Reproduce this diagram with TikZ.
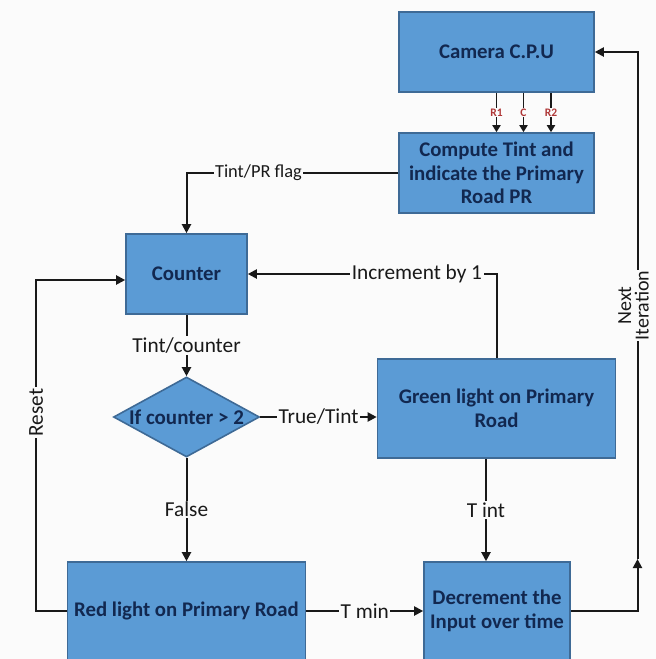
\documentclass[tikz,border=0pt]{standalone}
\usepackage{fontspec}
\setmainfont{Carlito}
\usetikzlibrary{arrows.meta,positioning,shapes.geometric}
\definecolor{boxblue}{RGB}{91,155,213}
\definecolor{boxedge}{RGB}{62,106,150}
\definecolor{navytext}{RGB}{18,40,80}
\definecolor{rtag}{RGB}{175,55,55}
\definecolor{paper}{RGB}{251,251,251}
\tikzset{
  box/.style   = {draw=boxedge, line width=1.6pt, fill=boxblue, text=navytext,
                  align=center, inner sep=3pt, font=\fontsize{20.8}{23.7}\selectfont\bfseries},
  decide/.style = {diamond, draw=boxedge, line width=1.6pt, fill=boxblue,
                  inner sep=0pt, minimum width=146pt, minimum height=80pt},
  lab/.style   = {fill=paper, inner sep=1.5pt, text=black!90, align=center,
                  font=\fontsize{21.3}{20}\selectfont},
  rlab/.style  = {fill=paper, inner sep=1pt, text=rtag, font=\fontsize{11.5}{12}\selectfont\bfseries},
  flow/.style  = {-{Triangle[length=9pt,width=9pt]}, line width=2pt, draw=black!90},
  feed/.style  = {-{Triangle[length=7pt,width=8pt]}, line width=1.8pt, draw=black!90},
}

\begin{document}
\begin{tikzpicture}[x=1pt, y=-1pt]
\fill[paper] (0,0) rectangle (656,659);
\useasboundingbox (0,0) rectangle (656,659);

\node[box, minimum width=195pt, minimum height=80pt] (cpu) at (496.5,52) {Camera C.P.U};
\node[box, minimum width=195pt, minimum height=80pt] (comp) at (496.5,173)
  {Compute Tint and\\indicate the Primary\\Road PR};
\node[box, minimum width=121pt, minimum height=80pt] (counter) at (186.5,274) {Counter};
\node[decide, label={[text=navytext, font=\fontsize{21}{23.7}\selectfont\bfseries]center:If counter > 2}]
  (check) at (186.5,417) {};
\node[box, minimum width=238pt, minimum height=99pt] (green) at (496.5,408.5)
  {Green light on Primary\\Road};
\node[box, minimum width=238pt, minimum height=98pt] (red) at (186.5,611) {Red light on Primary Road};
\node[box, minimum width=146pt, minimum height=98pt] (decr) at (497,611)
  {Decrement the\\Input over time};

\coordinate (rst) at (36,280);
\coordinate (nxt) at (637.5,559);

\draw[feed] (cpu.south) -- node[rlab] {R1} (cpu.south |- comp.north);
\draw[feed] ([xshift=27pt]cpu.south) -- node[rlab] {C} ([xshift=27pt]cpu.south |- comp.north);
\draw[feed] ([xshift=54.5pt]cpu.south) -- node[rlab] {R2} ([xshift=54.5pt]cpu.south |- comp.north);

\draw[flow] (comp.west) -- node[lab, pos=0.66, font=\fontsize{18.4}{20}\selectfont] {Tint/PR flag}
  (comp.west -| counter.north) -- (counter.north);
\draw[flow] (green.north) |- node[lab, pos=0.66] {Increment by 1} (counter.east);
\draw[flow] (counter.south) -- node[lab] {Tint/counter} (check.north);
\draw[flow] (check.east) -- node[lab] {True/Tint} (check.east -| green.west);
\draw[flow] (check.south) -- node[lab] {False} (red.north);
\draw[flow] ([xshift=-10.5pt]green.south) -- node[lab] {T int} ([xshift=-10.5pt]green.south |- decr.north);
\draw[flow] (red.east) -- node[lab] {T min} (decr.west);
\draw[flow] (red.west) -| node[lab, rotate=90, pos=0.8] {Reset} (rst) -- (rst -| counter.west);
\draw[flow] (decr.east) -| (nxt);
\draw[flow] (nxt) |- node[lab, rotate=90, pos=0.25, yshift=4pt, inner sep=0.5pt,
  font=\fontsize{20}{17.5}\selectfont] {Next\\Iteration} (cpu.east);
\end{tikzpicture}
\end{document}
